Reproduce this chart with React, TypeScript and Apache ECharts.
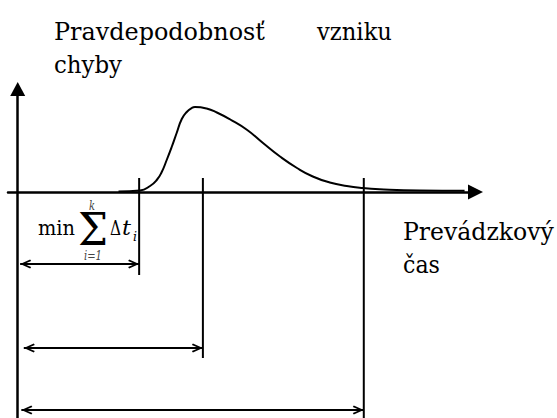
import React, { useEffect, useRef } from "react";
import * as echarts from "echarts";

// Failure probability density over operating time (arbitrary units)
const curveTime = [8.3, 10.07, 10.9, 11.45, 11.86, 12.27, 12.68, 13.09, 13.51, 13.92, 14.33, 14.6, 15.56, 16.4, 17.5, 18.9, 20.2, 21.6, 23.0, 24.3, 25.7, 27.1, 28.4, 29.8, 33.1, 36.8];
const curveProb = [0.004, 0.015, 0.06, 0.12, 0.2, 0.32, 0.45, 0.59, 0.73, 0.8, 0.84, 0.85, 0.835, 0.795, 0.725, 0.62, 0.49, 0.355, 0.24, 0.155, 0.095, 0.06, 0.04, 0.028, 0.015, 0.012];

// Marked times and their dimension lines
const tickTimes = [10, 15.25, 28.5];
const tickTop = 0.14;
const tickBottoms = [-0.83, -1.66, -2.26];
const arrowLevels = [-0.72, -1.56, -2.18];
const arrowStarts = [0.2, 0.5, 0.3];

// Axis ranges
const xRange = [-0.8, 37.7];
const yRange = [-2.26, 1.03];

// Texts
const titleWords = ["Pravdepodobnosť", "vzniku"];
const titleLine2 = "chyby";
const xNameLines = ["Prevádzkový", "čas"];
const formula = { min: "min", sum: "Σ", upper: "k", lower: "i=1", delta: "Δ", t: "t", sub: "i" };

const FAMILY = "DejaVu Serif";
const CHEVRON = "path://M5,0 L10,10 L8.4,11 L5,4 L1.6,11 L0,10 Z";

export default function App() {
  const ref = useRef<HTMLDivElement>(null);
  useEffect(() => {
    if (!ref.current) return;
    const chart = echarts.init(ref.current, undefined, { renderer: "svg" });
    const curve = curveTime.map((t, i) => [t, curveProb[i]]);
    const ctx = document.createElement("canvas").getContext("2d") as CanvasRenderingContext2D;
    const C = 0.346; // central baseline offset of DejaVu Serif (em)
    // text placed by its left/centre x, its baseline, and a target width (fits the reference's Times-like metrics)
    const txt = (
      text: string,
      x: number,
      baseline: number,
      size: number,
      width: number,
      opts: any = {}
    ) => {
      const font = `${opts.italic ? "italic " : ""}${size}px ${FAMILY}`;
      ctx.font = font;
      const w = ctx.measureText(text).width || width;
      const sx = width / w;
      return {
        type: "text",
        x,
        y: baseline - size * C,
        scaleX: sx,
        silent: true,
        style: {
          text,
          font,
          fill: opts.color || "#000",
          align: opts.align || "left",
          verticalAlign: "middle",
        },
      };
    };
    const tickSeries = tickTimes.map((t, i) => ({
      type: "line",
      silent: true,
      symbol: "none",
      data: [
        [t, tickTop],
        [t, tickBottoms[i]],
      ],
      lineStyle: { color: "#000", width: 2 },
      markLine: {
        silent: true,
        symbol: [CHEVRON, CHEVRON],
        symbolSize: [9, 11],
        symbolOffset: [
          [0, 5.5],
          [0, 5.5],
        ],
        label: { show: false },
        emphasis: { disabled: true },
        lineStyle: { color: "#000", width: 2, type: "solid" },
        data: [[{ coord: [arrowStarts[i], arrowLevels[i]] }, { coord: [t, arrowLevels[i]] }]],
      },
    }));
    chart.setOption({
      animation: false,
      grid: { left: 8, right: 81.5, top: 89, bottom: 0, containLabel: false },
      xAxis: {
        type: "value",
        min: xRange[0],
        max: xRange[1],
        axisLine: {
          show: true,
          onZero: true,
          symbol: ["none", "triangle"],
          symbolSize: [15, 15],
          lineStyle: { color: "#000", width: 2.5 },
        },
        axisTick: { show: false },
        axisLabel: { show: false },
        splitLine: { show: false },
      },
      yAxis: {
        type: "value",
        min: yRange[0],
        max: yRange[1],
        axisLine: {
          show: true,
          onZero: true,
          symbol: ["none", "triangle"],
          symbolSize: [15, 14],
          lineStyle: { color: "#000", width: 2.5 },
        },
        axisTick: { show: false },
        axisLabel: { show: false },
        splitLine: { show: false },
      },
      series: [
        {
          type: "line",
          silent: true,
          data: curve,
          smooth: 0.5,
          showSymbol: false,
          symbol: "none",
          lineStyle: { color: "#000", width: 2 },
        },
        ...tickSeries,
      ],
      graphic: [
        txt(titleWords[0], 54, 40, 25, 211),
        txt(titleWords[1], 317, 40, 25, 75),
        txt(titleLine2, 54, 73, 25, 68),
        txt(xNameLines[0], 403, 240, 25, 151),
        txt(xNameLines[1], 403, 273, 25, 37),
        txt(formula.min, 38, 235, 21, 37),
        txt(formula.sum, 78, 245, 45, 30),
        txt(formula.upper, 92, 210, 12, 6, { italic: true, align: "center", color: "#444" }),
        txt(formula.lower, 93, 260, 12, 18, { italic: true, align: "center", color: "#444" }),
        txt(formula.delta, 110, 235, 21, 11),
        txt(formula.t, 122, 235, 21, 9, { italic: true }),
        txt(formula.sub, 133, 241, 12, 4, { italic: true }),
      ],
    });
    return () => chart.dispose();
  }, []);
  return (
    <div
      ref={ref}
      style={{ position: "fixed", left: 0, top: 0, width: 557, height: 418, background: "#fff" }}
    />
  );
}
